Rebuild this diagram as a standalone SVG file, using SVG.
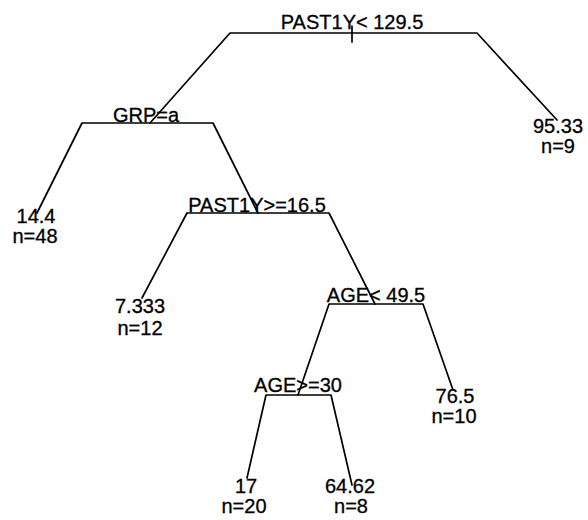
<svg xmlns="http://www.w3.org/2000/svg" width="588" height="520" viewBox="0 0 588 520">
<style>
.e{stroke:#000;stroke-width:1.7;fill:none;stroke-linecap:round;stroke-linejoin:round}
text{font-family:"Liberation Sans",Arial,sans-serif;font-size:20px;fill:#000;text-anchor:middle;stroke:#000;stroke-width:0.3}
</style>
<rect width="588" height="520" fill="#fff"/>
<g id="connectors" class="e">
<polyline points="150,123 230,33 477,33 557,120"/>
<line x1="352" y1="26" x2="352" y2="42"/>
<polyline points="37,213 82,123 213,123 258,213"/>
<polyline points="142,298 187,213 329,213 375,304"/>
<polyline points="298,395 329,304 423,304 453,390"/>
<polyline points="247,478 266,395 331,395 352,485"/>
</g>
<g id="n1"><text x="352" y="29">PAST1Y&lt; 129.5</text></g>
<g id="n2"><text x="146" y="122">GRP=a</text></g>
<g id="n3"><text x="558" y="133">95.33</text><text x="558" y="153">n=9</text></g>
<g id="n4"><text x="36" y="223">14.4</text><text x="35" y="243">n=48</text></g>
<g id="n5"><text x="257" y="212">PAST1Y&gt;=16.5</text></g>
<g id="n6"><text x="140" y="313">7.333</text><text x="140" y="335">n=12</text></g>
<g id="n7"><text x="376" y="302">AGE&lt; 49.5</text></g>
<g id="n8"><text x="298" y="392">AGE&gt;=30</text></g>
<g id="n9"><text x="455" y="403">76.5</text><text x="454" y="423">n=10</text></g>
<g id="n10"><text x="246" y="493">17</text><text x="244" y="513">n=20</text></g>
<g id="n11"><text x="350" y="493">64.62</text><text x="351" y="513">n=8</text></g>
</svg>
